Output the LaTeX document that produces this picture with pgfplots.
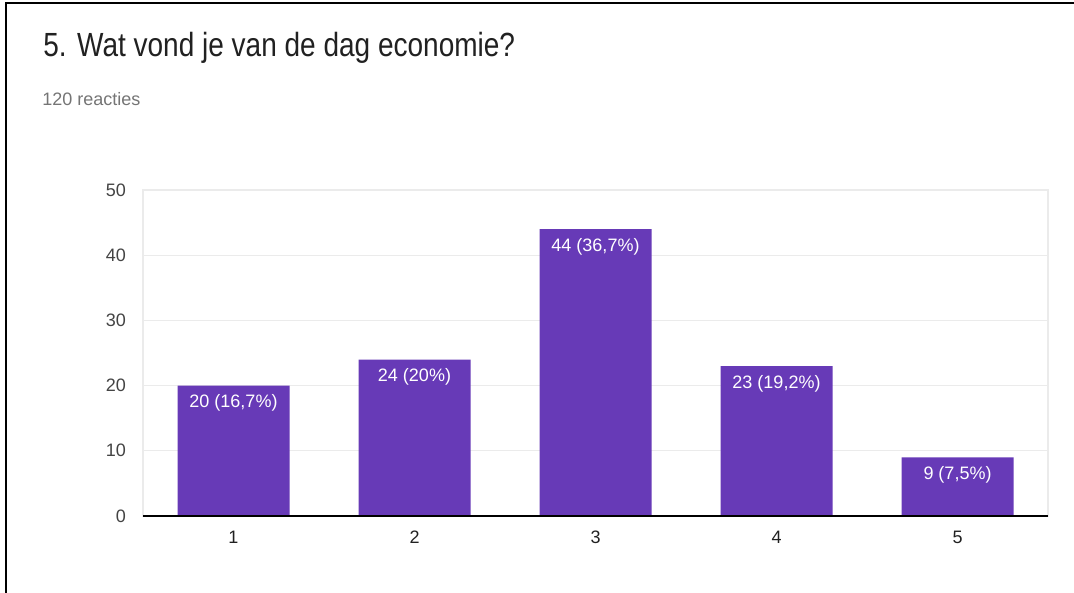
\documentclass[border=0pt]{standalone}
\usepackage{fontspec}
\setmainfont{Liberation Sans}
\usepackage{graphicx}
\usepackage{pgfplots}
\pgfplotsset{compat=1.18}

\definecolor{barpurple}{HTML}{673AB7}
\definecolor{titleink}{HTML}{212121}
\definecolor{subgray}{HTML}{757575}
\definecolor{tickink}{HTML}{444444}
\definecolor{gridgray}{HTML}{EBEBEB}
\definecolor{baseline}{HTML}{555555}

\begin{document}
\begin{tikzpicture}
% canvas: 1 px of the reference = 0.5pt
\path[use as bounding box, fill=white] (0,0) rectangle (537pt,296.5pt);
\draw[black, line width=1pt] (3pt,0) -- (3pt,294.75pt) -- (537pt,294.75pt);

\node[anchor=base west, inner sep=0, text=titleink] at (21.5pt,268pt)
    {\scalebox{0.836}[1]{\fontsize{16.75pt}{20pt}\selectfont 5. Wat vond je van de dag economie?}};
\node[anchor=base west, inner sep=0, text=subgray] at (21pt,243.5pt)
    {\fontsize{9pt}{11pt}\selectfont 120 reacties};

\begin{axis}[
    at               = {(71.5pt,38.5pt)},
    anchor           = south west,
    scale only axis,
    width            = 452.5pt,
    height           = 163pt,
    ybar,
    bar width        = 56pt,
    xmin = 0.5, xmax = 5.5,
    ymin = 0,   ymax = 50,
    xtick            = {1,2,3,4,5},
    ytick            = {0,10,20,30,40,50},
    major tick length= 0pt,
    axis line style  = {gridgray, line width=0.6pt},
    ymajorgrids,
    grid style       = {gridgray, line width=0.6pt},
    /pgf/number format/assume math mode=true,
    yticklabel style = {font=\fontsize{9pt}{11pt}\selectfont, text=tickink, xshift=-5pt},
    xticklabel style = {font=\fontsize{9pt}{11pt}\selectfont, text=titleink, yshift=-4pt},
    clip             = false,
]
\addplot[
    fill=barpurple, draw=none,
    nodes near coords,
    point meta=explicit symbolic,
    nodes near coords align={below},
    every node near coord/.append style={font=\fontsize{9pt}{11pt}\selectfont, text=white, yshift=-1pt},
] coordinates {
    (1,20) [20 (16,7\%)]
    (2,24) [24 (20\%)]
    (3,44) [44 (36,7\%)]
    (4,23) [23 (19,2\%)]
    (5,9)  [9 (7,5\%)]
};
% dark base line at zero
\draw[baseline, line width=0.8pt] (rel axis cs:0,0) -- (rel axis cs:1,0);
\end{axis}
\end{tikzpicture}
\end{document}
